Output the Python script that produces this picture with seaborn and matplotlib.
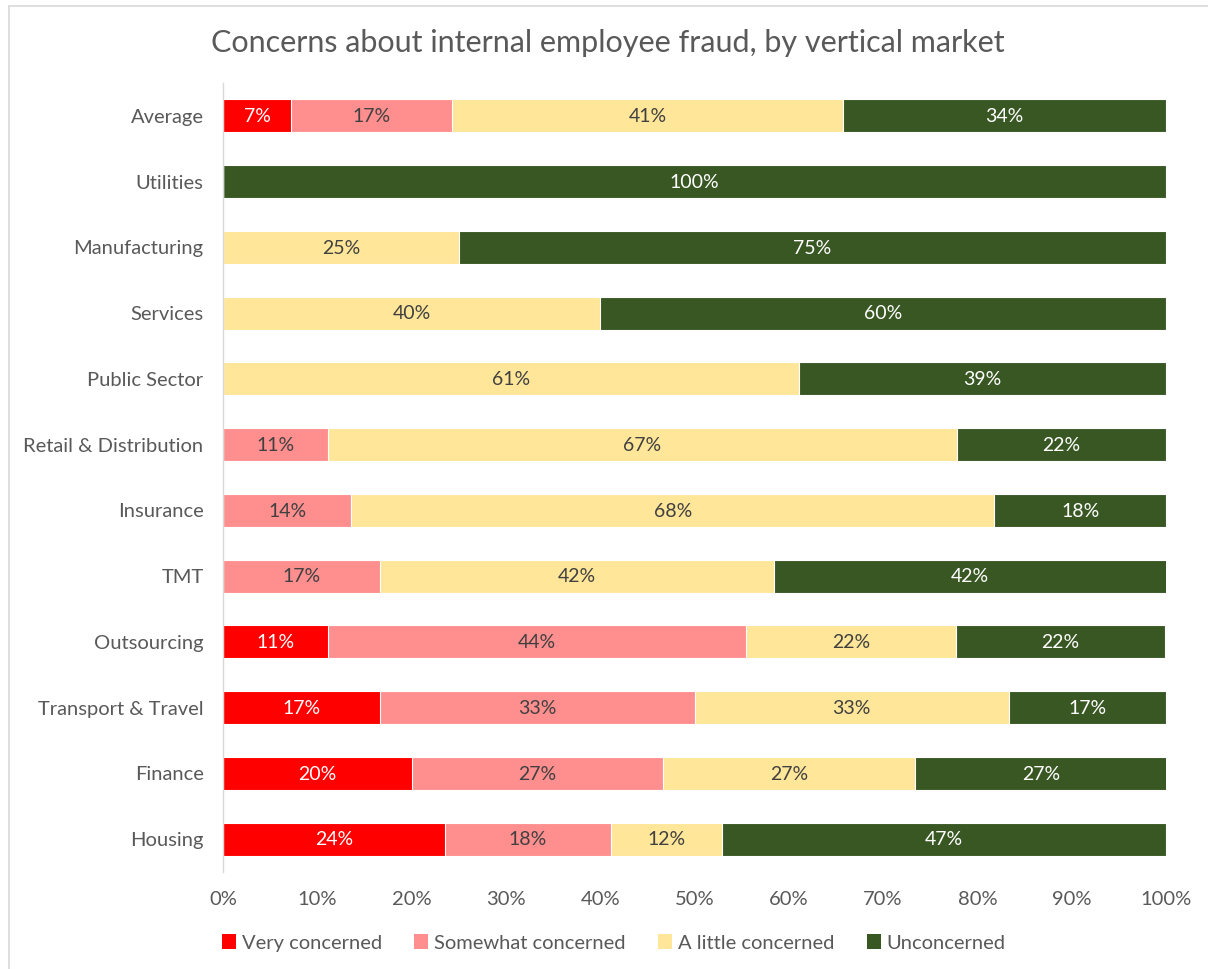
import numpy as np
import pandas as pd
import matplotlib
matplotlib.use("Agg")
import matplotlib.pyplot as plt
from matplotlib.lines import Line2D
from matplotlib.patches import Patch
import seaborn as sns

sns.set_style("white")
plt.rcParams["font.family"] = ["Lato", "DejaVu Sans"]

# Vertical markets, top to bottom
markets = ["Average", "Utilities", "Manufacturing", "Services", "Public Sector",
           "Retail & Distribution", "Insurance", "TMT", "Outsourcing",
           "Transport & Travel", "Finance", "Housing"]

# Share of respondents (%) per concern level
very_concerned = [7.2, 0, 0, 0, 0, 0, 0, 0, 11.1, 16.7, 20.0, 23.5]
somewhat_concerned = [17.1, 0, 0, 0, 0, 11.1, 13.6, 16.7, 44.4, 33.3, 26.7, 17.6]
little_concerned = [41.4, 0, 25.0, 40.0, 61.1, 66.7, 68.2, 41.7, 22.2, 33.3, 26.7, 11.8]
unconcerned = [34.3, 100.0, 75.0, 60.0, 38.9, 22.2, 18.2, 41.7, 22.2, 16.7, 26.7, 47.1]

levels = ["Very concerned", "Somewhat concerned", "A little concerned", "Unconcerned"]
colors = ["#FF0000", "#FF8F8F", "#FFE699", "#385723"]
label_colors = ["white", "#404040", "#404040", "white"]

df = pd.DataFrame({
    "market": markets,
    levels[0]: very_concerned,
    levels[1]: somewhat_concerned,
    levels[2]: little_concerned,
    levels[3]: unconcerned,
})
cum = df[levels].cumsum(axis=1)

fig = plt.figure(figsize=(12.08, 9.69), dpi=100)
ax = fig.add_axes([223 / 1208, 1 - 872 / 969, (1166 - 223) / 1208, (872 - 83) / 969])

# Stacked bars: draw cumulative totals from the last level back to the first
for i in range(len(levels) - 1, -1, -1):
    sns.barplot(x=cum[levels[i]], y=df["market"], order=markets, orient="h",
                color=colors[i], saturation=1, width=0.5, ax=ax,
                edgecolor="white", linewidth=0.8)

# Segment labels
for i, lvl in enumerate(levels):
    for j, m in enumerate(markets):
        v = df.loc[j, lvl]
        if v <= 0:
            continue
        xc = cum.loc[j, lvl] - v / 2
        ax.text(xc, j + 0.01, f"{v:.0f}%", ha="center", va="center",
                fontsize=14, color=label_colors[i])

ax.set_xlim(0, 100)
ax.set_ylim(len(markets) - 0.5, -0.5)
ax.set_xticks(np.arange(0, 101, 10))
ax.set_xticklabels([f"{t}%" for t in range(0, 101, 10)])
ax.set_xlabel("")
ax.set_ylabel("")
ax.tick_params(axis="both", length=0, labelsize=14.5, colors="#595959")
ax.tick_params(axis="y", pad=14)
ax.tick_params(axis="x", pad=14)
for s in ["top", "right", "bottom"]:
    ax.spines[s].set_visible(False)
ax.spines["left"].set_color("#D9D9D9")
ax.spines["left"].set_linewidth(1.0)

fig.text(0.503, 1 - 43 / 969, "Concerns about internal employee fraud, by vertical market",
         ha="center", va="center", fontsize=22, color="#595959")

handles = [Patch(facecolor=c, edgecolor="none") for c in colors]
fig.legend(handles, levels, loc="center", bbox_to_anchor=(0.508, 1 - 943 / 969),
           ncol=4, frameon=False, fontsize=14.5, handlelength=0.7, handleheight=0.7,
           handletextpad=0.3, columnspacing=1.6, labelcolor="#595959")

# Chart area border
fig.add_artist(Line2D([9 / 1208, 1.0], [1 - 6 / 969, 1 - 6 / 969],
                      transform=fig.transFigure, color="#D9D9D9", linewidth=1.2))
fig.add_artist(Line2D([9 / 1208, 9 / 1208], [0, 1 - 6 / 969],
                      transform=fig.transFigure, color="#D9D9D9", linewidth=1.2))

fig.savefig("out.png", dpi=100, facecolor="white")
